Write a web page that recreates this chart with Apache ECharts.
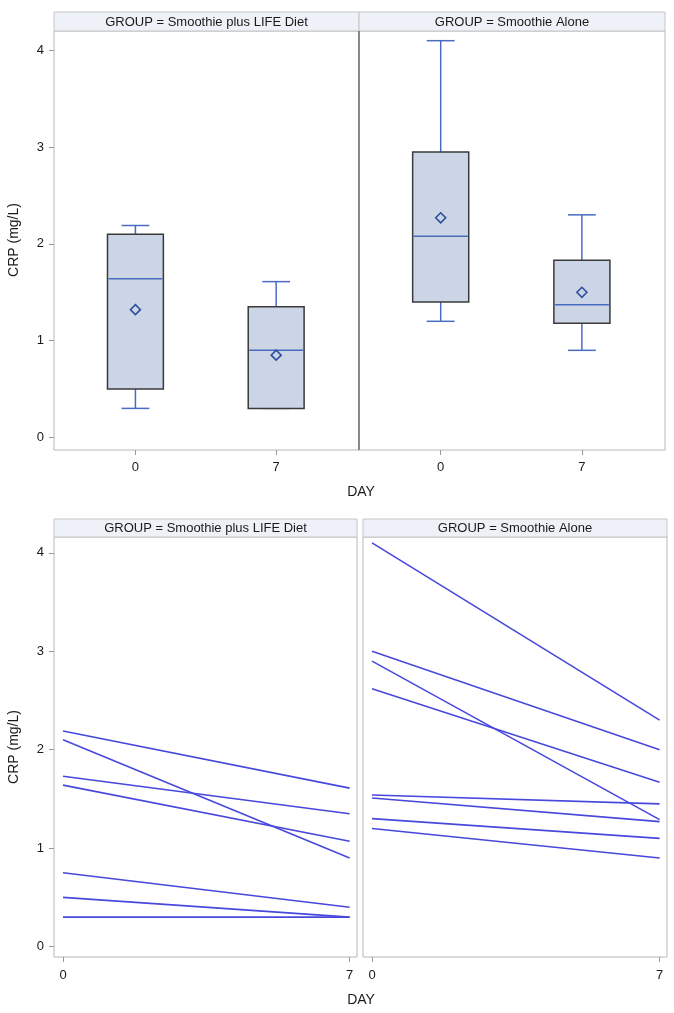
<!DOCTYPE html>
<html>
<head>
<meta charset="utf-8">
<script src="https://cdn.jsdelivr.net/npm/echarts@6/dist/echarts.min.js"></script>
<style>
html,body{margin:0;padding:0;background:#fff;}
#chart{width:674px;height:1013px;}
</style>
</head>
<body>
<div id="chart"></div>
<script>
// ---- data ----
const days = [0, 7];
const dayTicks = [0, 7];
const crpTicks = [0, 1, 2, 3, 4];
const groupNames = ['Smoothie plus LIFE Diet', 'Smoothie Alone'];

// box plot statistics per day (day 0, day 7)
const lifeMin    = [0.30, 0.30];
const lifeQ1     = [0.50, 0.30];
const lifeMedian = [1.64, 0.90];
const lifeQ3     = [2.10, 1.35];
const lifeMax    = [2.19, 1.61];
const lifeMean   = [1.32, 0.85];

const aloneMin    = [1.20, 0.90];
const aloneQ1     = [1.40, 1.18];
const aloneMedian = [2.08, 1.37];
const aloneQ3     = [2.95, 1.83];
const aloneMax    = [4.10, 2.30];
const aloneMean   = [2.27, 1.50];

// individual subject profiles (day 0 value, day 7 value)
const lifeDay0  = [2.19, 2.10, 1.73, 1.64, 0.75, 0.50, 0.30];
const lifeDay7  = [1.61, 0.90, 1.35, 1.07, 0.40, 0.30, 0.30];
const aloneDay0 = [4.10, 3.00, 2.90, 2.62, 1.54, 1.51, 1.30, 1.20];
const aloneDay7 = [2.30, 2.00, 1.29, 1.67, 1.45, 1.27, 1.10, 0.90];

// ---- styling ----
const FONT = 'Liberation Sans, Arial, sans-serif';
const BOX_HALF = 1.39;
const CAP_HALF = 0.69;
const boxFill = '#cbd5e6';
const boxEdge = '#3a3a3a';
const boxBlue = '#4a6cc0';
const meanBlue = '#2e4f9e';
const lineBlue = '#4848dc';
const frameColor = '#b8b8b8';
const textColor = '#1a1a1a';

function boxRows(mn, q1, md, q3, mx, mean) {
  return days.map((d, i) => [d, mn[i], q1[i], md[i], q3[i], mx[i], mean[i]]);
}

function renderBox(params, api) {
  const x = api.value(0);
  const pMin = api.coord([x, api.value(1)]);
  const pQ1 = api.coord([x, api.value(2)]);
  const pMd = api.coord([x, api.value(3)]);
  const pQ3 = api.coord([x, api.value(4)]);
  const pMax = api.coord([x, api.value(5)]);
  const pMean = api.coord([x, api.value(6)]);
  const hw = api.size([BOX_HALF, 0])[0];
  const cw = api.size([CAP_HALF, 0])[0];
  const cx = pMd[0];
  const ls = {stroke: boxBlue, lineWidth: 1.5};
  const d = 5;
  return {
    type: 'group',
    children: [
      {type: 'line', shape: {x1: cx, y1: pQ3[1], x2: cx, y2: pMax[1]}, style: ls},
      {type: 'line', shape: {x1: cx - cw, y1: pMax[1], x2: cx + cw, y2: pMax[1]}, style: ls},
      {type: 'line', shape: {x1: cx, y1: pQ1[1], x2: cx, y2: pMin[1]}, style: ls},
      {type: 'line', shape: {x1: cx - cw, y1: pMin[1], x2: cx + cw, y2: pMin[1]}, style: ls},
      {type: 'rect', shape: {x: cx - hw, y: pQ3[1], width: 2 * hw, height: pQ1[1] - pQ3[1]},
        style: {fill: boxFill, stroke: boxEdge, lineWidth: 1.5}},
      {type: 'line', shape: {x1: cx - hw + 1, y1: pMd[1], x2: cx + hw - 1, y2: pMd[1]}, style: ls},
      {type: 'polygon', shape: {points: [[cx, pMean[1] - d], [cx + d, pMean[1]], [cx, pMean[1] + d], [cx - d, pMean[1]]]},
        style: {fill: 'none', stroke: meanBlue, lineWidth: 1.6}}
    ]
  };
}

const grids = [
  {left: 54, top: 31, width: 305, height: 419},
  {left: 359, top: 31, width: 306, height: 419},
  {left: 54, top: 537, width: 303, height: 420},
  {left: 363, top: 537, width: 304, height: 420}
].map(g => Object.assign({show: true, borderColor: frameColor, borderWidth: 1, backgroundColor: '#fff'}, g));

function xAx(gi, mn, mx, margin) {
  return {
    type: 'value', gridIndex: gi, min: mn, max: mx, position: 'bottom',
    axisLine: {show: false, onZero: false},
    splitLine: {show: false},
    axisTick: {show: true, customValues: dayTicks, length: 5, lineStyle: {color: '#999'}},
    axisLabel: {customValues: dayTicks, fontSize: 13, color: textColor, fontFamily: FONT, margin: margin}
  };
}
function yAx(gi, mn, mx, showLabels) {
  return {
    type: 'value', gridIndex: gi, min: mn, max: mx, position: 'left',
    axisLine: {show: false, onZero: false},
    splitLine: {show: false},
    axisTick: {show: showLabels, customValues: crpTicks, length: 5, lineStyle: {color: '#999'}},
    axisLabel: {show: showLabels, customValues: crpTicks, fontSize: 13, color: textColor, fontFamily: FONT, margin: 10}
  };
}

function lineSeries(gi, d0, d7) {
  return d0.map((v, i) => ({
    type: 'line', xAxisIndex: gi, yAxisIndex: gi,
    data: [[days[0], v], [days[1], d7[i]]],
    symbol: 'none', silent: true,
    lineStyle: {color: lineBlue, width: 1.6},
    z: 3
  }));
}

function header(x, y, w, h, label) {
  return [
    {type: 'rect', shape: {x: x, y: y, width: w, height: h}, style: {fill: '#eff1f8', stroke: '#c6c6c6', lineWidth: 1}, z: 10},
    {type: 'text', x: x + w / 2, y: y + h / 2 + 0.5,
      style: {text: 'GROUP = ' + label, fill: textColor, font: '13px ' + FONT, textAlign: 'center', textVerticalAlign: 'middle'}, z: 11}
  ];
}

const option = {
  backgroundColor: '#fff',
  animation: false,
  grid: grids,
  xAxis: [xAx(0, -4.05, 11.12, 11), xAx(1, -4.05, 11.12, 11), xAx(2, -0.22, 7.18, 12), xAx(3, -0.22, 7.18, 12)],
  yAxis: [yAx(0, -0.13, 4.2, true), yAx(1, -0.13, 4.2, false), yAx(2, -0.105, 4.16, true), yAx(3, -0.105, 4.16, false)],
  series: [
    {type: 'custom', xAxisIndex: 0, yAxisIndex: 0, renderItem: renderBox, silent: true,
      data: boxRows(lifeMin, lifeQ1, lifeMedian, lifeQ3, lifeMax, lifeMean)},
    {type: 'custom', xAxisIndex: 1, yAxisIndex: 1, renderItem: renderBox, silent: true,
      data: boxRows(aloneMin, aloneQ1, aloneMedian, aloneQ3, aloneMax, aloneMean)}
  ].concat(lineSeries(2, lifeDay0, lifeDay7), lineSeries(3, aloneDay0, aloneDay7)),
  graphic: [].concat(
    header(54, 12, 305, 19, groupNames[0]),
    header(359, 12, 306, 19, groupNames[1]),
    header(54, 519, 303, 18, groupNames[0]),
    header(363, 519, 304, 18, groupNames[1]),
    [
      {type: 'line', shape: {x1: 359, y1: 31, x2: 359, y2: 450}, style: {stroke: '#555', lineWidth: 1.2}, z: 12},
      {type: 'text', x: 361, y: 492, style: {text: 'DAY', fill: textColor, font: '14px ' + FONT, textAlign: 'center', textVerticalAlign: 'middle'}},
      {type: 'text', x: 361, y: 1000, style: {text: 'DAY', fill: textColor, font: '14px ' + FONT, textAlign: 'center', textVerticalAlign: 'middle'}},
      {type: 'text', x: 14, y: 240, rotation: Math.PI / 2, style: {text: 'CRP (mg/L)', fill: textColor, font: '14px ' + FONT, textAlign: 'center', textVerticalAlign: 'middle'}},
      {type: 'text', x: 14, y: 747, rotation: Math.PI / 2, style: {text: 'CRP (mg/L)', fill: textColor, font: '14px ' + FONT, textAlign: 'center', textVerticalAlign: 'middle'}}
    ]
  )
};

const chart = echarts.init(document.getElementById('chart'), null, {renderer: 'canvas'});
chart.setOption(option);
</script>
</body>
</html>
